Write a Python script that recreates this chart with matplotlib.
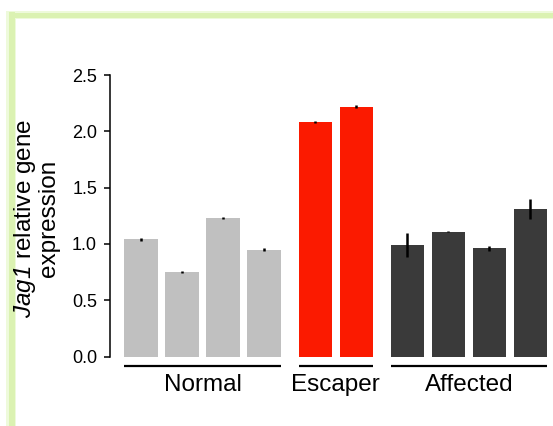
import numpy as np
import matplotlib
matplotlib.use("Agg")
import matplotlib.pyplot as plt
from matplotlib.patches import Rectangle

plt.rcParams['font.family'] = ['Liberation Sans', 'DejaVu Sans']
# math text is only used for the italic gene name, digits included
plt.rcParams['mathtext.fontset'] = 'custom'
plt.rcParams['mathtext.rm'] = 'Liberation Sans:italic'
plt.rcParams['mathtext.it'] = 'Liberation Sans:italic'

# relative expression per sample, grouped by phenotype
groups = ["Normal", "Escaper", "Affected"]
normal_vals = [1.04, 0.75, 1.23, 0.95]
normal_err = [0.01, 0.01, 0.01, 0.01]
escaper_vals = [2.08, 2.22]
escaper_err = [0.01, 0.01]
affected_vals = [0.99, 1.11, 0.96, 1.31]
affected_err = [0.11, 0.005, 0.02, 0.09]
yticks = [0.0, 0.5, 1.0, 1.5, 2.0, 2.5]

group_colors = ["#c0c0c0", "#fb1a00", "#3a3a3a"]
group_vals = [normal_vals, escaper_vals, affected_vals]
group_errs = [normal_err, escaper_err, affected_err]
group_gap = 0.25
bar_w = 0.81

W, H = 553, 426
fig = plt.figure(figsize=(W / 100, H / 100), dpi=100)


def band(x0, y0, w, h, color):
    # filled strip given in pixels from the top-left corner
    fig.patches.append(Rectangle((x0 / W, 1 - (y0 + h) / H), w / W, h / H,
                                 transform=fig.transFigure, facecolor=color,
                                 edgecolor="none", zorder=-1))


# light green frame (top and left edges)
band(7, 11, W, 8, "#eefadb")
band(6, 11, 10, H, "#eefadb")
band(9, 12.5, W, 5, "#dbf2b2")
band(8.5, 12.5, 6, H, "#dbf2b2")

ax = fig.add_axes([110 / W, (H - 356.6) / H, 443 / W, (356.6 - 75) / H])
ax.patch.set_alpha(0)

start = 0.0
for name, vals, errs, col in zip(groups, group_vals, group_errs, group_colors):
    xs = start + np.arange(len(vals))
    ax.bar(xs, vals, width=bar_w, color=col, zorder=2)
    ax.errorbar(xs, vals, yerr=errs, fmt="none", ecolor="black",
                elinewidth=1.8, capsize=0, zorder=3)
    left = xs[0] - bar_w / 2
    right = xs[-1] + bar_w / 2
    ax.plot([left, right], [-0.083, -0.083], color="black", lw=1.6,
            clip_on=False, solid_capstyle="butt")
    ax.text((left + right) / 2, -0.25, name, ha="center", va="center",
            fontsize=17.5, clip_on=False)
    start = xs[-1] + 1 + group_gap

ax.set_xlim(-0.756, 10.05)
ax.set_ylim(0, 2.5)
ax.set_yticks(yticks)
ax.set_yticklabels([f"{t:.1f}" for t in yticks])
ax.set_xticks([])
for s in ["top", "right", "bottom"]:
    ax.spines[s].set_visible(False)
ax.spines["left"].set_linewidth(1.1)
ax.tick_params(axis="y", length=4.3, width=1.1, pad=5, labelsize=13)

ax.set_ylabel("$Jag1$ relative gene\nexpression", fontsize=17.5,
              multialignment="center", linespacing=1.0)
ax.yaxis.set_label_coords(-0.113, 0.49)

fig.savefig("out.png", dpi=100)
